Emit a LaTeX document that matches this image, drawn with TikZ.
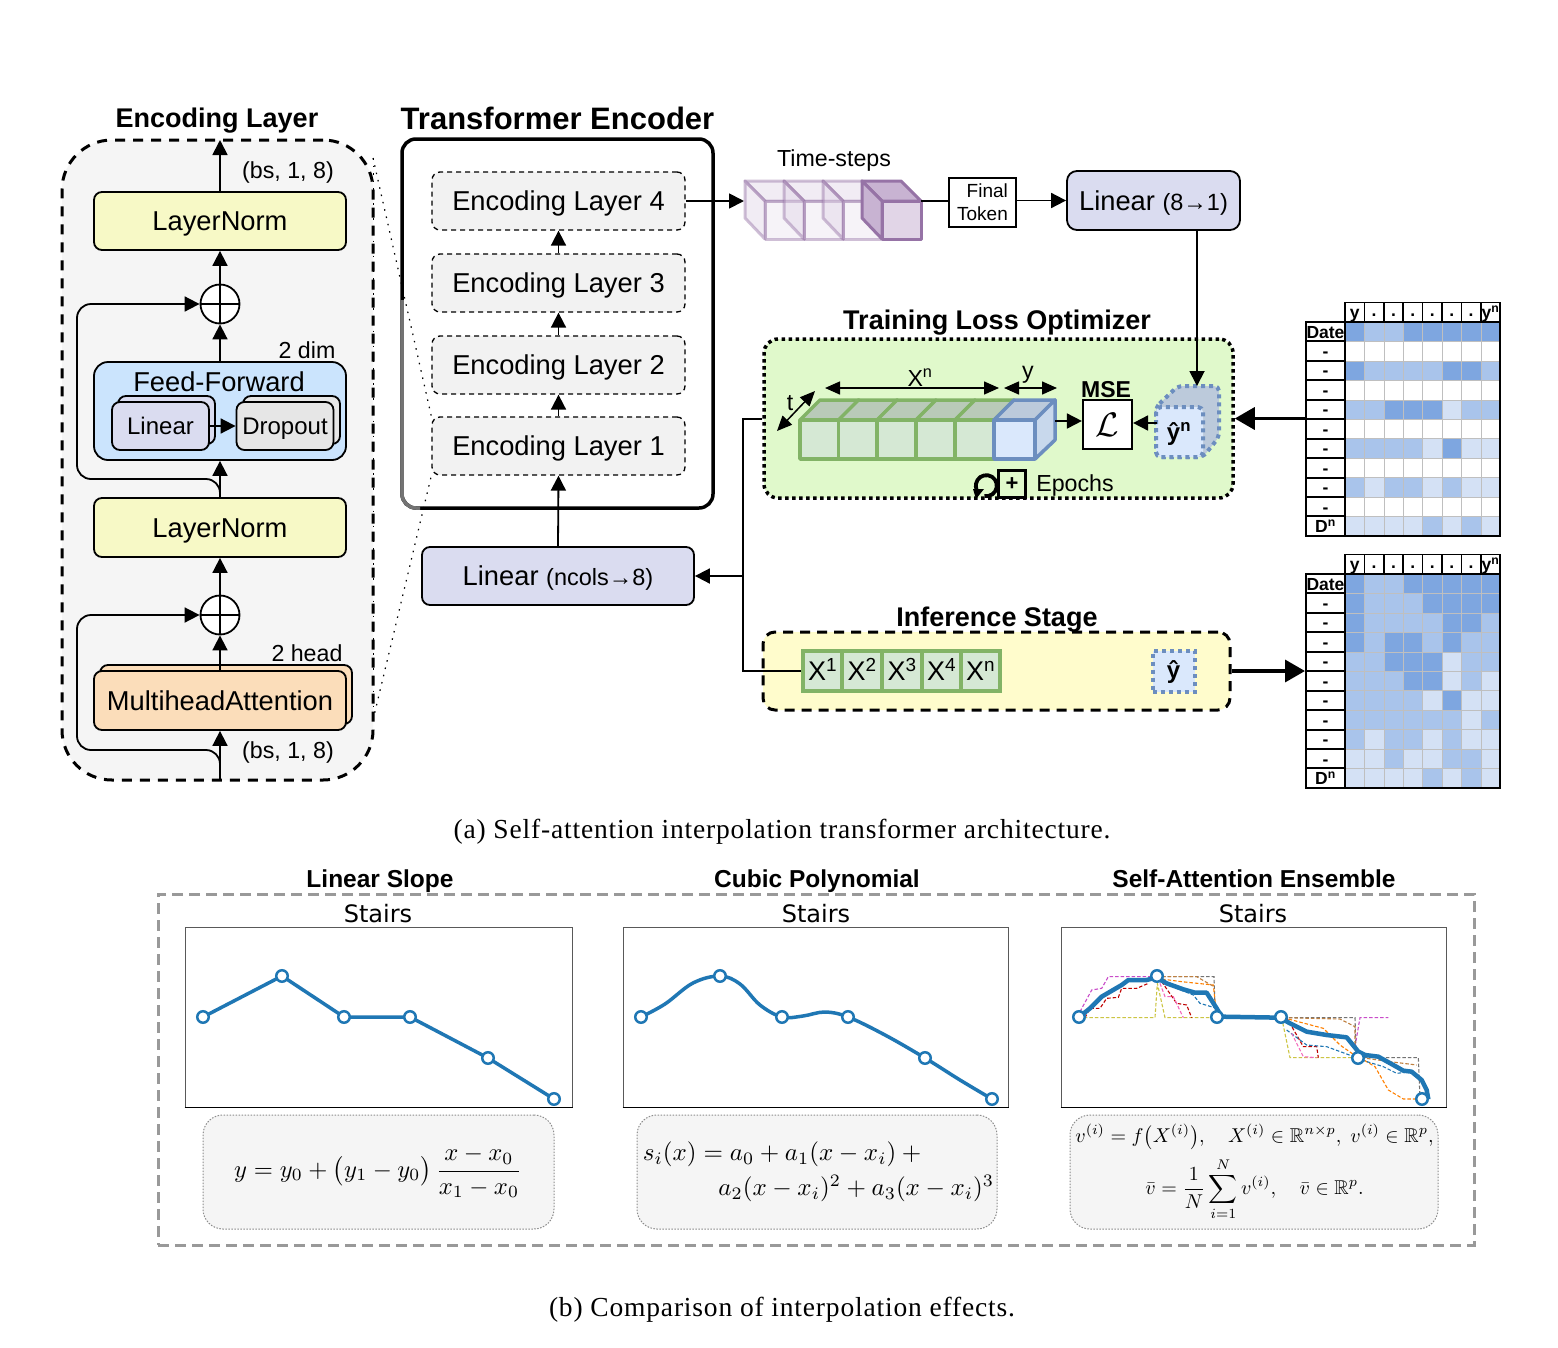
\documentclass[tikz,border=0pt]{standalone}
\usepackage{amsmath,amssymb}
\usepackage[no-math]{fontspec}
\setmainfont{Liberation Sans}
\newfontfamily\djv{DejaVu Sans}
\newfontfamily\capf[LetterSpace=3]{Liberation Serif}
\usetikzlibrary{arrows.meta}
\newcommand\fsz[1]{\fontsize{#1}{#1}\selectfont}
\definecolor{tva}{HTML}{FFFFFF}
\definecolor{tvb}{HTML}{D4E1F5}
\definecolor{tvc}{HTML}{A9C4EB}
\definecolor{tvd}{HTML}{7EA6E0}
\definecolor{ygl}{HTML}{F7F9C6}
\definecolor{ffb}{HTML}{CBE4FD}
\definecolor{lav}{HTML}{DADCF0}
\definecolor{drp}{HTML}{E6E6E6}
\definecolor{org}{HTML}{FBDDBA}
\definecolor{grn}{HTML}{82B366}
\definecolor{grf}{HTML}{D5E8D4}
\definecolor{grt}{HTML}{B9CAB8}
\definecolor{blu}{HTML}{6C8EBF}
\definecolor{blf}{HTML}{DAE8FC}
\definecolor{blt}{HTML}{BCCADB}
\definecolor{bls}{HTML}{C8D8EC}
\definecolor{pur}{HTML}{9673A6}
\definecolor{puf}{HTML}{E1D5E7}
\definecolor{pud}{HTML}{C8B3D2}
\definecolor{plt}{HTML}{1F77B4}
\definecolor{lgr}{HTML}{E0F9CB}
\tikzset{
  wh/.style 2 args={minimum width=#1pt,minimum height=#2pt},
  bx/.style={draw=black,line width=1.8pt,rounded corners=8pt,inner sep=0pt,align=center,font=\fsz{27.3},text height=19.6pt,text depth=0pt},
  enc/.style={bx,draw=black,line width=1.3pt,dash pattern=on 5pt off 4pt,fill=black!5},
  subbx/.style={bx,font=\fsz{24},text height=17.3pt,rounded corners=8pt},
  plusn/.style={circle,draw=black,line width=1.8pt,fill=white,inner sep=0pt,minimum size=39pt},
  lbl/.style={inner sep=0pt,font=\fsz{23.2},text height=16.7pt,text depth=0pt},
  ttl/.style={inner sep=0pt,font=\bfseries\fsz{27},text height=19.5pt,text depth=0pt},
  arr/.style={-{Triangle[length=15pt,width=15pt]},line width=1.8pt},
  darr/.style={{Triangle[length=15pt,width=13pt]}-{Triangle[length=15pt,width=13pt]},line width=1.5pt},
  bigarr/.style={-{Triangle[length=20pt,width=22pt]},line width=3.5pt},
  xcell/.style={draw=grn,line width=3.5pt,fill=grf,inner sep=0pt,font=\fsz{27},text height=19.4pt,text depth=0pt},
  hdr/.style={draw=black,line width=1.5pt,fill=white,inner sep=0pt,font=\bfseries\fsz{17.5},text height=12.6pt,text depth=0pt},
  rowc/.style={draw=black,line width=2pt,fill=white,inner sep=0pt,font=\bfseries\fsz{17.5},text height=12.6pt,text depth=0pt},
  frm/.style={draw=black!45,line width=1pt,dash pattern=on 1.5pt off 1.5pt,fill=black!4,rounded corners=20pt,inner sep=0pt},
  stair/.style={inner sep=0pt,font=\djv\fsz{24},text height=17.5pt,text depth=0pt},
  sttl/.style={inner sep=0pt,font=\bfseries\fsz{24.5},text height=17.6pt,text depth=0pt},
  captxt/.style={inner sep=0pt,font=\capf\fsz{27.5},text height=18.5pt,text depth=0pt},
  pbox/.style={draw=black!65,line width=1pt,fill=white,inner sep=0pt},
  pdot/.style={circle,draw=plt,line width=2.5pt,fill=white,inner sep=0pt,minimum size=11.5pt},
  pline/.style={draw=plt,line width=3.5pt,line join=round,line cap=round},
  thindash/.style={line width=1.1pt,dash pattern=on 3.5pt off 2pt},
}
\newcommand\ptbl[3]{%
  \foreach \rw [count=\r from 0] in {#3}{%
    \foreach \v [count=\c from 0] in \rw{%
      \fill[fill=\v] ({1345+\c*19.4},{#2+\r*19.45}) rectangle ++(19.4,19.45);%
    }%
  }%
  \foreach \c in {1,...,7}{\draw[black!25,line width=.6pt] ({1345+\c*19.4},#2) -- ++(0,213.95);}%
  \foreach \r in {1,...,10}{\draw[black!25,line width=.6pt] (1345,{#2+\r*19.45}) -- ++(155.2,0);}%
  \draw[black,line width=2pt] (1345,#2) rectangle ++(155.2,213.95);%
  \foreach \t [count=\c from 0] in {y,\raisebox{2.5pt}{.},\raisebox{2.5pt}{.},\raisebox{2.5pt}{.},\raisebox{2.5pt}{.},\raisebox{2.5pt}{.},\raisebox{2.5pt}{.},y\textsuperscript{n}}{%
    \node[hdr,wh={19.4}{19.45}] (#1h\c) at ({1354.7+\c*19.4},{#2-9.7}) {\t};%
  }%
  \foreach \t [count=\r from 0] in {Date,-,-,-,-,-,-,-,-,-,D\textsuperscript{n}}{%
    \node[rowc,wh={39}{19.45}] (#1r\r) at ({1325.5},{#2+9.7+\r*19.45}) {\t};%
  }%
}
\begin{document}
\begin{tikzpicture}[x=1pt,y=-1pt]
\useasboundingbox (0,0) rectangle (1558,1347);
\fill[white] (0,0) rectangle (1558,1347);

% ---------- Encoding layer detail
\node[draw=black,fill=black!4,line width=3pt,dash pattern=on 10pt off 8pt,rounded corners=50pt,wh={311}{640},inner sep=0pt] (outer) at (217.5,460) {};
\node[ttl] (enct) at (217,118) {Encoding Layer};
\node[lbl] (bs1) at (288,170) {(bs, 1, 8)};
\node[lbl] (bs2) at (288,750) {(bs, 1, 8)};
\node[lbl] (dim2) at (307,350) {2 dim};
\node[lbl] (head2) at (307,653) {2 head};
\node[bx,fill=ygl,wh={252}{58}] (lna) at (220,221) {LayerNorm};
\node[bx,fill=ygl,wh={252}{59}] (lnb) at (220,527.5) {LayerNorm};
\node[plusn] (pa) at (220,304) {};
\node[plusn] (pb) at (220,615) {};
\draw[line width=1.8pt] (pa.north) -- (pa.south) (pa.west) -- (pa.east);
\draw[line width=1.8pt] (pb.north) -- (pb.south) (pb.west) -- (pb.east);
\node[bx,fill=ffb,rounded corners=14pt,wh={252}{98}] (ff) at (220,411) {};
\node[inner sep=0pt,font=\fsz{27.3},text height=19.6pt,text depth=0pt] (fft) at (219,382) {Feed-Forward};
\node[subbx,fill=lav,wh={97}{48}] (linb) at (166.5,420) {};
\node[subbx,fill=lav,wh={97}{48}] (lin) at (160.5,426) {Linear};
\node[subbx,fill=drp,wh={97}{48}] (drob) at (291.5,420) {};
\node[subbx,fill=drp,wh={97}{48}] (dro) at (285,426) {Dropout};
\node[bx,fill=org,wh={252}{59}] (mhb) at (226,694.5) {};
\node[bx,fill=org,wh={252}{59}] (mh) at (220,700.5) {MultiheadAttention};
\coordinate (inb) at (220,780);
\coordinate (topo) at (220,140);
\coordinate (c1a) at (77,479);
\coordinate (c1b) at (77,304);
\coordinate (c2a) at (77,750);
\coordinate (c2b) at (77,615);
\coordinate (b1) at (220,479);
\coordinate (b2) at (220,750);
\draw[arr] (lna.north) -- (topo);
\draw[arr] (pa.north) -- (lna.south);
\draw[arr] (ff.north) -- (pa.south);
\draw[arr] (lnb.north) -- (ff.south);
\draw[arr] (pb.north) -- (lnb.south);
\draw[arr] (mh.north) -- (pb.south);
\draw[arr] (inb) -- (mh.south);
\draw[arr] (lin.east) -- (dro.west);
\draw[arr,rounded corners=14pt] (lnb.north) -- (b1) -- (c1a) -- (c1b) -- (pa.west);
\draw[arr,rounded corners=14pt] (inb) -- (b2) -- (c2a) -- (c2b) -- (pb.west);

% ---------- Transformer encoder
\node[ttl,font=\bfseries\fsz{31},text height=22.3pt] (tet) at (557.5,118) {Transformer Encoder};
\node[draw=black,line width=3.5pt,rounded corners=14pt,wh={311}{369},inner sep=0pt,fill=white] (tbox) at (557.5,323.5) {};
\coordinate (gs) at (402,300);
\coordinate (gc) at (402,508);
\coordinate (ge) at (420,508);
\draw[black!55,line width=3.5pt,rounded corners=14pt] (gs) -- (gc) -- (ge);
\node[enc,wh={253}{58}] (el4) at (558.5,201) {Encoding Layer 4};
\node[enc,wh={253}{58}] (el3) at (558.5,283) {Encoding Layer 3};
\node[enc,wh={253}{58}] (el2) at (558.5,365) {Encoding Layer 2};
\node[enc,wh={253}{58}] (el1) at (558.5,446) {Encoding Layer 1};
\coordinate (ztop) at (373,158);
\coordinate (zbot) at (373,720);
\draw[black,line width=1.2pt,dash pattern=on 1.5pt off 6pt] (ztop) -- (el1.north west);
\draw[black,line width=1.2pt,dash pattern=on 1.5pt off 6pt] (zbot) -- (el1.south west);
\draw[black,line width=1pt,dash pattern=on 1.5pt off 6pt] (ztop) -- (zbot);
\draw[arr] (el1.north) -- (el2.south);
\draw[arr] (el2.north) -- (el3.south);
\draw[arr] (el3.north) -- (el4.south);
\node[bx,fill=lav,wh={272}{58}] (lin8) at (558,576) {Linear {\fsz{23.5}(ncols→8)}};
\draw[arr] (lin8.north) -- (el1.south);

% ---------- Time steps
\node[lbl] (tst) at (834,158) {Time-steps};
\coordinate (tsin) at (744,201);
\draw[arr] (el4.east) -- (tsin);
\foreach \xx in {765,804,843}{
  \begin{scope}[opacity=.45,draw=pur,line width=3pt,line join=round]
    \filldraw[fill=puf] (\xx-20,181) -- (\xx+19,181) -- (\xx+39,201) -- (\xx,201) -- cycle;
    \filldraw[fill=puf] (\xx-20,181) -- (\xx,201) -- (\xx,239) -- (\xx-20,218) -- cycle;
    \filldraw[fill=puf!60] (\xx,201) rectangle (\xx+39,239);
  \end{scope}
}
\begin{scope}[draw=pur,line width=3pt,line join=round]
  \filldraw[fill=pud] (862,181) -- (901,181) -- (921,201) -- (882,201) -- cycle;
  \filldraw[fill=pud] (862,181) -- (882,201) -- (882,239) -- (862,218) -- cycle;
  \filldraw[fill=puf] (882,201) rectangle (921,239);
\end{scope}
\coordinate (tsout) at (921,201);
\node[draw=black,line width=1.5pt,fill=white,wh={67}{49},inner sep=0pt,align=right,font=\fontsize{19}{23}\selectfont] (ftk) at (982.5,202.5) {Final\\Token};
\draw[line width=1.8pt] (tsout) -- (ftk.west |- tsout);
\node[bx,fill=lav,rounded corners=10pt,wh={173}{59}] (lin1) at (1153.5,200.5) {Linear {\fsz{23.5}(8→1)}};
\draw[arr] (ftk.east |- lin1.west) -- (lin1.west);

% ---------- Training loss optimizer
\node[ttl] (tlot) at (997,320) {Training Loss Optimizer};
\node[draw=black,fill=lgr,line width=3.5pt,dash pattern=on 3.5pt off 3.5pt,rounded corners=14pt,wh={469}{159},inner sep=0pt] (tlo) at (998.5,418.5) {};
\foreach \xx in {800,838.5,877,916,955}{
  \filldraw[draw=grn,line width=3.5pt,fill=grt,line join=round] (\xx,420) -- (\xx+20,400) -- (\xx+59,400) -- (\xx+39,420) -- cycle;
}
\foreach \xx in {800,838.5,877,916,955}{
  \filldraw[draw=grn,line width=3.5pt,fill=grf,line join=round] (\xx,420) rectangle (\xx+39,459);
}
\begin{scope}[draw=blu,line width=3.5pt,line join=round]
  \filldraw[fill=blt] (994,420) -- (1014,400) -- (1055,400) -- (1035,420) -- cycle;
  \filldraw[fill=bls] (1035,420) -- (1055,400) -- (1055,440) -- (1035,459) -- cycle;
  \filldraw[fill=blf] (994,420) rectangle (1035,459);
\end{scope}
\coordinate (xa) at (825,388); \coordinate (xb) at (999,388);
\coordinate (ya) at (1004,388); \coordinate (yb) at (1057,388);
\coordinate (ta) at (777,431); \coordinate (tb) at (815,391);
\draw[darr] (xa) -- (xb);
\draw[darr] (ya) -- (yb);
\draw[darr] (ta) -- (tb);
\node[lbl] (xnl) at (920,378) {X\textsuperscript{n}};
\node[lbl] (yl) at (1028,370) {y};
\node[lbl] (tl) at (790,402) {t};
\node[draw=black,line width=2.2pt,fill=white,wh={49}{49},inner sep=0pt] (loss) at (1107.5,424.5) {\scalebox{3.4}{$\mathcal{L}$}};
\node[inner sep=0pt,font=\bfseries\fsz{23},text height=16.5pt,text depth=0pt] (mse) at (1106,389) {MSE};
\coordinate (cubo) at (1055,421);
\draw[arr] (cubo) -- (loss.west |- cubo);
\begin{scope}[draw=blu,line width=4pt,dash pattern=on 4pt off 4pt,line join=round]
  \filldraw[fill=blt,rounded corners=5pt] (1156,407) -- (1178,386) -- (1219,386) -- (1219,437) -- (1203,457) -- (1156,457) -- cycle;
  \filldraw[fill=blf,rounded corners=5pt] (1156,407) rectangle (1203,457);
\end{scope}
\node[inner sep=0pt,font=\bfseries\fsz{24},text height=17.3pt,text depth=0pt] (yhn) at (1179,432) {ŷ\textsuperscript{n}};
\coordinate (ycl) at (1157,423);
\coordinate (ycu) at (1197,386);
\draw[arr] (ycl) -- (loss.east |- ycl);
\draw[arr] (lin1.south -| ycu) -- (ycu);
\draw[line width=3.8pt] (984.5,496) arc[start angle=100,end angle=-200,radius=10.5];
\fill (973,489) -- (984,489) -- (976,499) -- cycle;
\node[draw=black,line width=3.8pt,fill=none,wh={27}{27},inner sep=0pt,font=\bfseries\fsz{22}] (epb) at (1012,484) {+};
\node[lbl] (ept) at (1075,483) {Epochs};

% ---------- Inference
\node[ttl] (inft) at (997,617) {Inference Stage};
\node[draw=black,fill=yellow!20,line width=3pt,dash pattern=on 10pt off 7pt,rounded corners=12pt,wh={467}{78},inner sep=0pt] (inf) at (996.5,671) {};
\node[xcell,wh={39}{40}] (x1) at (822.5,671) {X\textsuperscript{1}};
\node[xcell,wh={39}{40}] (x2) at (862,671) {X\textsuperscript{2}};
\node[xcell,wh={39}{40}] (x3) at (902,671) {X\textsuperscript{3}};
\node[xcell,wh={39}{40}] (x4) at (941.5,671) {X\textsuperscript{4}};
\node[xcell,wh={39}{40}] (xn) at (980.5,671) {X\textsuperscript{n}};
\node[draw=blu,fill=blf,line width=4pt,dash pattern=on 4pt off 4pt,wh={42}{41},inner sep=0pt,font=\bfseries\fsz{24},text height=15pt,text depth=0pt] (yh) at (1173.5,671) {ŷ};
\coordinate (jt) at (743,419);
\coordinate (jb) at (743,671);
\coordinate (jm) at (743,576);
\draw[line width=1.5pt] (tlo.west |- jt) -- (jt) -- (jb) -- (x1.west);
\draw[arr] (jm) -- (lin8.east);

% ---------- Tables
\ptbl{ta}{322}{{tvd,tvc,tvc,tvd,tvd,tvd,tvd,tvd},{tva,tva,tva,tva,tva,tva,tva,tva},{tvd,tvc,tvc,tvc,tvc,tvd,tvd,tvc},{tva,tva,tva,tva,tva,tva,tva,tva},{tvc,tvc,tvd,tvd,tvd,tvb,tvc,tvc},{tva,tva,tva,tva,tva,tva,tva,tva},{tvc,tvc,tvc,tvc,tvb,tvd,tvb,tvb},{tva,tva,tva,tva,tva,tva,tva,tva},{tvc,tvb,tvc,tvc,tvb,tvc,tvb,tvb},{tva,tva,tva,tva,tva,tva,tva,tva},{tvb,tvb,tvb,tvb,tvc,tvb,tvc,tvb}}
\ptbl{tb}{574}{{tvd,tvc,tvc,tvd,tvd,tvd,tvd,tvd},{tvd,tvc,tvc,tvc,tvd,tvd,tvd,tvd},{tvd,tvc,tvc,tvc,tvc,tvd,tvd,tvc},{tvd,tvc,tvd,tvd,tvc,tvd,tvc,tvc},{tvc,tvc,tvd,tvd,tvd,tvb,tvc,tvc},{tvc,tvc,tvc,tvd,tvd,tvb,tvc,tvb},{tvc,tvc,tvc,tvc,tvb,tvd,tvb,tvb},{tvc,tvc,tvc,tvc,tvc,tvc,tvb,tvc},{tvc,tvb,tvc,tvc,tvb,tvc,tvb,tvb},{tvb,tvb,tvc,tvb,tvb,tvc,tvc,tvb},{tvb,tvb,tvb,tvb,tvc,tvb,tvc,tvb}}
\draw[bigarr] (tar4.west |- tlo.east) -- (tlo.east);
\draw[bigarr] (inf.east) -- (tbr5.west |- inf.east);

% ---------- Captions
\node[captxt] (capa) at (782,829) {(a) Self-attention interpolation transformer architecture.};
\node[captxt] (capb) at (782,1307) {(b) Comparison of interpolation effects.};

% ---------- Lower panel
\node[draw=black!40,line width=3pt,dash pattern=on 11pt off 6pt,wh={1316}{351},inner sep=0pt] (cmp) at (816,1069.5) {};
\node[sttl] (st1) at (380,879) {Linear Slope};
\node[sttl] (st2) at (817,879) {Cubic Polynomial};
\node[sttl] (st3) at (1254,879) {Self-Attention Ensemble};
\node[stair] (sa) at (378,914) {Stairs};
\node[stair] (sb) at (816,914) {Stairs};
\node[stair] (sc) at (1253,914) {Stairs};
\node[pbox,wh={387}{180}] (pa1) at (378.5,1017) {};
\node[pbox,wh={385}{180}] (pa2) at (815.5,1017) {};
\node[pbox,wh={385}{180}] (pa3) at (1253.5,1017) {};
\draw[black,line width=1.4pt] (pa1.south west) -- (pa1.south east);
\draw[black,line width=1.4pt] (pa2.south west) -- (pa2.south east);
\draw[black,line width=1.4pt] (pa3.south west) -- (pa3.south east);

\draw[pline] (203,1017) -- (282,976) -- (344,1017) -- (410,1017) -- (488,1058) -- (554,1099);
\foreach \p in {(203,1017),(282,976),(344,1017),(410,1017),(488,1058),(554,1099)}{\node[pdot] at \p {};}
\draw[pline] plot[smooth,tension=.6] coordinates {(641,1017) (665,1004) (693,983) (720,976) (740,984) (760,1005) (782,1017) (803,1016) (825,1012) (848,1017) (885,1035) (925,1058) (960,1080) (992,1099)};
\foreach \p in {(641,1017),(720,976),(782,1017),(848,1017),(925,1058),(992,1099)}{\node[pdot] at \p {};}

\begin{scope}[shift={(1050,920)},x=.33333pt,y=-.33333pt,thindash]
  \draw[yellow!75!black!90] (85,293) -- (315,293) -- (322,190) -- (345,293) -- (500,293);
  \draw[yellow!75!black!90] (695,293) -- (720,413) -- (920,413);
  \draw[violet!60!magenta!70] (90,275) -- (125,210) -- (155,205) -- (175,170) -- (320,170);
  \draw[violet!60!magenta!70] (915,380) -- (930,293) -- (1015,293);
  \draw[red!75!black] (105,293) -- (120,265) -- (150,265) -- (170,235) -- (205,232) -- (215,205) -- (260,205) -- (295,190);
  \draw[red!75!black] (335,185) -- (380,250) -- (410,255) -- (425,293);
  \draw[red!75!black] (710,293) -- (760,380) -- (800,380) -- (805,413);
  \draw[black!55] (320,170) -- (492,170) -- (495,265);
  \draw[black!55] (700,293) -- (915,293) -- (918,400);
  \draw[black!55] (925,413) -- (1105,413) -- (1110,535);
  \draw[orange] (320,175) -- (395,185) -- (490,195) -- (500,290);
  \draw[orange] (700,293) -- (820,325) -- (870,375) -- (920,410);
  \draw[orange] (930,413) -- (975,440) -- (1015,510) -- (1060,537) -- (1115,537);
  \draw[plt] (330,185) -- (430,225) -- (450,250) -- (500,265);
  \draw[plt] (710,330) -- (770,375) -- (830,380) -- (920,413);
  \draw[plt] (935,420) -- (1000,440) -- (1040,460) -- (1085,455);
  \draw[magenta!60] (330,190) -- (345,230) -- (370,230) -- (400,293);
  \draw[magenta!60] (725,340) -- (760,410) -- (800,413);
  \draw[brown] (320,170) -- (440,170) -- (492,200);
  \draw[brown] (700,293) -- (870,297) -- (915,320) -- (915,400);
  \draw[brown] (935,413) -- (1020,425) -- (1100,435);
  \draw[draw=plt,line width=4.5pt,line join=round,solid] (85,293) -- (120,265) -- (155,230) -- (215,195) -- (235,180) -- (290,180) -- (320,172) -- (350,190) -- (400,208) -- (435,218) -- (470,218) -- (500,265) -- (515,290) -- (690,293) -- (720,310) -- (770,335) -- (830,345) -- (890,352) -- (925,395) -- (945,405) -- (985,410) -- (1030,435) -- (1060,452) -- (1085,455) -- (1115,480) -- (1130,510) -- (1135,538);
\end{scope}
\foreach \p in {(1079,1017),(1157,976),(1217,1017),(1281,1017),(1358,1058),(1422,1099)}{\node[pdot] at \p {};}

\node[frm,wh={351}{114}] (fa) at (378.5,1172) {};
\node[frm,wh={360}{114}] (fb) at (817,1172) {};
\node[frm,wh={368}{114}] (fc) at (1254,1172) {};
\node[inner sep=0pt,scale=2.46] (fat) at (378,1172) {$\displaystyle y = y_0 + \bigl(y_1 - y_0\bigr)\,\frac{x-x_0}{x_1-x_0}$};
\node[inner sep=0pt,scale=2.5] (fbt) at (818.5,1172) {$\begin{array}{@{}c@{}}\makebox[140.5pt][l]{$s_i(x) = a_0 + a_1(x-x_i) +{}$}\\[2pt] \makebox[140.5pt][r]{$a_2(x-x_i)^2 + a_3(x-x_i)^3$}\end{array}$};
\node[inner sep=0pt,scale=2.0] (fct) at (1254.5,1172) {$\begin{gathered} v^{(i)} = f\bigl(X^{(i)}\bigr),\quad X^{(i)}\in\mathbb{R}^{n\times p},\ v^{(i)}\in\mathbb{R}^{p},\\ \bar{v} = \frac{1}{N}\sum_{i=1}^{N} v^{(i)},\quad \bar{v}\in\mathbb{R}^{p}.\end{gathered}$};
\end{tikzpicture}
\end{document}
